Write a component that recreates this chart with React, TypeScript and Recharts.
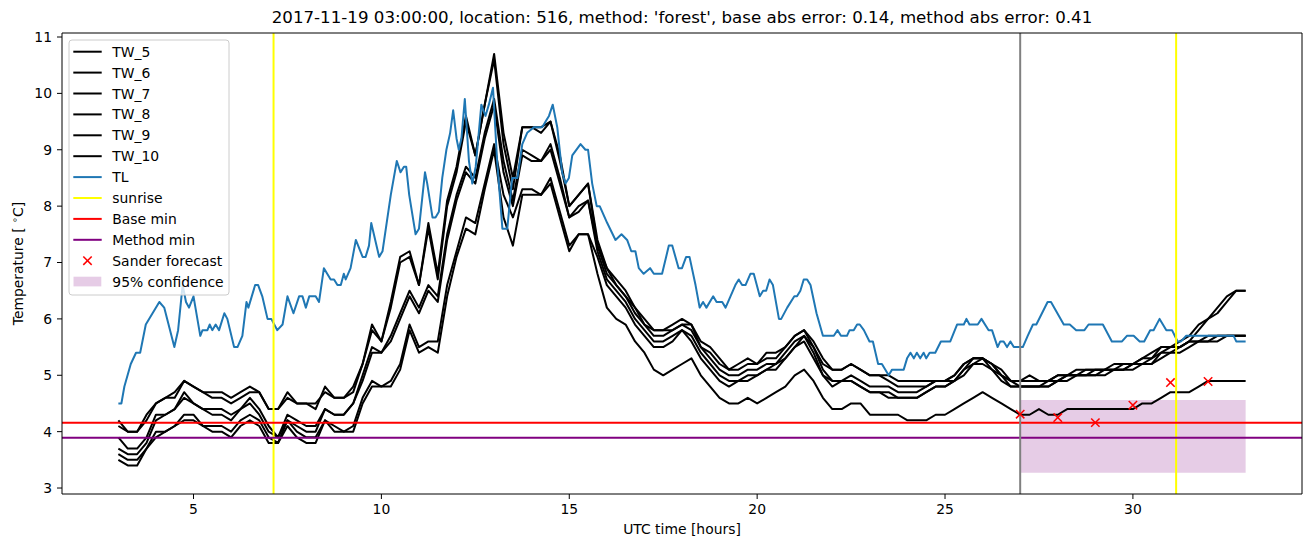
import React from 'react';
import { ComposedChart, Line, XAxis, YAxis, ReferenceLine, ReferenceArea, Scatter } from 'recharts';

const FONT = '"DejaVu Sans", sans-serif';

// sample times of the TW series (hours, every 15 minutes from 3 to 33)
const HOURS = Array.from({ length: 121 }, (_, i) => 3 + i * 0.25);

const TW_5 = [
  4.2, 4.0, 4.0, 4.3, 4.5, 4.6, 4.7, 4.9, 4.8, 4.7, 4.7, 4.7, 4.6, 4.7, 4.8, 4.7,
  4.4, 4.4, 4.7, 4.5, 4.5, 4.4, 4.8, 4.6, 4.6, 4.8, 5.2, 5.9, 5.6, 6.3, 7.1, 7.2,
  6.6, 7.7, 6.8, 8.1, 8.7, 9.6, 8.9, 9.8, 10.7, 9.3, 8.5, 9.4, 9.4, 9.4, 9.5, 8.9,
  8.0, 8.2, 8.4, 7.4, 6.9, 6.7, 6.5, 6.2, 6.0,
  5.8, 5.8, 5.9, 6.0, 5.9, 5.6, 5.5, 5.3, 5.1, 5.2, 5.3, 5.2, 5.4, 5.4, 5.5, 5.7,
  5.8, 5.6, 5.3, 5.1, 5.1, 5.2, 5.1, 5.0, 5.0, 5.0, 4.9, 4.9, 4.9, 4.9, 4.9, 4.9,
  5.0, 5.2, 5.3, 5.3, 5.2, 5.1, 4.9, 4.9, 4.9, 4.9, 4.9, 5.0, 5.0, 5.1, 5.1, 5.1,
  5.1, 5.2, 5.2, 5.2, 5.3, 5.4, 5.5, 5.5, 5.6, 5.7, 5.9, 6.0, 6.2, 6.4, 6.5, 6.5,
];
const TW_6 = [
  4.1, 4.0, 4.0, 4.2, 4.5, 4.6, 4.6, 4.9, 4.8, 4.7, 4.6, 4.6, 4.5, 4.6, 4.7, 4.7,
  4.4, 4.4, 4.6, 4.5, 4.5, 4.5, 4.7, 4.6, 4.6, 4.7, 5.2, 5.8, 5.6, 6.2, 7.0, 7.1,
  6.6, 7.6, 6.7, 8.0, 8.6, 9.5, 8.9, 9.8, 10.6, 9.1, 8.3, 9.4, 9.4, 9.3, 9.5, 8.8,
  8.0, 8.2, 8.4, 7.3, 6.9, 6.6, 6.4, 6.2, 5.9,
  5.8, 5.8, 5.8, 5.9, 5.9, 5.5, 5.4, 5.2, 5.1, 5.1, 5.2, 5.2, 5.3, 5.3, 5.5, 5.7,
  5.8, 5.5, 5.2, 5.1, 5.1, 5.2, 5.1, 5.0, 5.0, 4.9, 4.8, 4.8, 4.8, 4.8, 4.9, 4.9,
  5.0, 5.2, 5.3, 5.3, 5.2, 5.0, 4.9, 4.9, 5.0, 4.9, 4.9, 5.0, 5.0, 5.0, 5.1, 5.1,
  5.1, 5.1, 5.2, 5.2, 5.3, 5.3, 5.5, 5.5, 5.5, 5.6, 5.8, 6.0, 6.1, 6.3, 6.5, 6.5,
];
const TW_7 = [
  3.9, 3.7, 3.7, 3.9, 4.3, 4.3, 4.4, 4.7, 4.5, 4.4, 4.4, 4.4, 4.3, 4.4, 4.6, 4.4,
  4.1, 3.9, 4.3, 4.2, 4.1, 4.1, 4.4, 4.3, 4.3, 4.5, 5.0, 5.5, 5.4, 5.7, 6.1, 6.5,
  6.2, 6.6, 6.4, 7.5, 8.2, 8.7, 8.5, 9.3, 9.9, 8.8, 8.1, 9.0, 8.9, 8.8, 9.1, 8.5,
  7.8, 8.0, 8.1, 7.3, 6.8, 6.6, 6.4, 6.1, 5.9,
  5.7, 5.7, 5.8, 5.9, 5.8, 5.5, 5.3, 5.1, 5.0, 5.0, 5.1, 5.1, 5.2, 5.2, 5.4, 5.6,
  5.7, 5.5, 5.1, 4.9, 4.9, 5.0, 4.9, 4.8, 4.8, 4.8, 4.7, 4.7, 4.7, 4.8, 4.9, 4.9,
  4.9, 5.1, 5.3, 5.3, 5.2, 5.0, 4.9, 4.8, 4.8, 4.8, 4.9, 4.9, 5.0, 5.0, 5.0, 5.1,
  5.1, 5.1, 5.1, 5.2, 5.2, 5.3, 5.4, 5.5, 5.5, 5.6, 5.6, 5.7, 5.7, 5.7, 5.7, 5.7,
];
const TW_8 = [
  3.7, 3.6, 3.6, 3.8, 4.2, 4.3, 4.4, 4.6, 4.5, 4.4, 4.3, 4.3, 4.2, 4.4, 4.5, 4.3,
  4.0, 3.9, 4.2, 4.1, 4.0, 4.0, 4.4, 4.3, 4.3, 4.5, 4.9, 5.4, 5.4, 5.6, 6.0, 6.4,
  6.1, 6.5, 6.3, 7.4, 8.1, 8.6, 8.4, 9.2, 9.8, 8.6, 8.0, 8.9, 8.8, 8.8, 9.0, 8.4,
  7.8, 7.9, 8.1, 7.2, 6.7, 6.5, 6.3, 6.0, 5.8,
  5.6, 5.6, 5.7, 5.8, 5.7, 5.4, 5.2, 5.0, 4.9, 4.9, 5.0, 5.0, 5.1, 5.2, 5.3, 5.5,
  5.7, 5.4, 5.0, 4.9, 4.9, 4.9, 4.8, 4.7, 4.7, 4.7, 4.6, 4.6, 4.6, 4.7, 4.8, 4.8,
  4.9, 5.1, 5.2, 5.3, 5.1, 5.0, 4.8, 4.8, 4.8, 4.8, 4.8, 4.9, 5.0, 5.0, 5.0, 5.0,
  5.1, 5.1, 5.1, 5.2, 5.2, 5.2, 5.4, 5.4, 5.5, 5.6, 5.6, 5.6, 5.7, 5.7, 5.7, 5.7,
];
const TW_9 = [
  3.6, 3.5, 3.5, 3.7, 4.0, 4.0, 4.1, 4.3, 4.3, 4.1, 4.1, 4.1, 4.0, 4.2, 4.3, 4.2,
  3.9, 3.8, 4.2, 4.0, 3.9, 3.9, 4.2, 4.1, 4.0, 4.1, 4.6, 4.9, 4.8, 4.9, 5.2, 5.9,
  5.5, 5.6, 5.6, 6.6, 7.2, 7.8, 7.7, 8.4, 9.1, 8.2, 7.8, 8.3, 8.3, 8.2, 8.5, 7.9,
  7.3, 7.5, 7.5, 7.1, 6.6, 6.4, 6.2, 5.9, 5.7,
  5.5, 5.5, 5.6, 5.8, 5.6, 5.3, 5.1, 4.9, 4.8, 4.9, 4.9, 5.0, 5.1, 5.1, 5.3, 5.5,
  5.6, 5.3, 5.0, 4.8, 4.9, 4.9, 4.8, 4.7, 4.7, 4.6, 4.6, 4.6, 4.6, 4.7, 4.8, 4.8,
  4.9, 5.0, 5.2, 5.2, 5.1, 4.9, 4.8, 4.8, 4.8, 4.8, 4.8, 4.9, 4.9, 5.0, 5.0, 5.0,
  5.0, 5.1, 5.1, 5.1, 5.2, 5.2, 5.3, 5.4, 5.4, 5.5, 5.6, 5.6, 5.6, 5.7, 5.7, 5.7,
];
const TW_10 = [
  3.5, 3.4, 3.4, 3.7, 3.9, 4.0, 4.1, 4.2, 4.2, 4.1, 4.0, 4.0, 3.9, 4.1, 4.2, 4.1,
  3.8, 3.8, 4.1, 3.9, 3.8, 3.8, 4.2, 4.0, 4.0, 4.0, 4.5, 4.8, 4.8, 4.8, 5.1, 5.8,
  5.4, 5.5, 5.4, 6.4, 7.1, 7.6, 7.5, 8.3, 9.0, 7.8, 7.3, 8.2, 8.2, 8.2, 8.4, 7.8,
  7.2, 7.5, 7.5, 6.8, 6.2, 6.0, 5.9, 5.6, 5.4,
  5.1, 5.0, 5.1, 5.2, 5.3, 5.0, 4.8, 4.6, 4.5, 4.5, 4.6, 4.5, 4.6, 4.7, 4.8, 5.0,
  5.1, 4.9, 4.6, 4.4, 4.4, 4.5, 4.5, 4.3, 4.3, 4.3, 4.3, 4.2, 4.2, 4.2, 4.3, 4.3,
  4.4, 4.5, 4.6, 4.7, 4.6, 4.5, 4.4, 4.3, 4.3, 4.4, 4.3, 4.3, 4.4, 4.4, 4.4, 4.4,
  4.4, 4.4, 4.4, 4.4, 4.5, 4.5, 4.6, 4.7, 4.7, 4.7, 4.8, 4.9, 4.9, 4.9, 4.9, 4.9,
];

// TL: [hour, temperature]
const TL_POINTS: [number, number][] = [
  [3.0, 4.5], [3.08, 4.5], [3.16, 4.8], [3.33, 5.2], [3.47, 5.4], [3.58, 5.4], [3.73, 5.9], [4.09, 6.3],
  [4.22, 6.2], [4.49, 5.5], [4.59, 5.8], [4.71, 6.6], [4.8, 6.3], [4.88, 6.2], [5.0, 6.4], [5.18, 5.7],
  [5.24, 5.8], [5.37, 5.8], [5.43, 5.9], [5.5, 5.8], [5.59, 5.9], [5.68, 5.8], [5.82, 6.1], [5.9, 6.0],
  [6.08, 5.5], [6.17, 5.5], [6.3, 5.7], [6.41, 6.3], [6.46, 6.2], [6.64, 6.6], [6.72, 6.6], [6.83, 6.4],
  [6.97, 6.0], [7.07, 6.0], [7.23, 5.8], [7.37, 5.9], [7.5, 6.4], [7.66, 6.1], [7.81, 6.4], [7.9, 6.4],
  [7.99, 6.2], [8.08, 6.4], [8.25, 6.4], [8.34, 6.3], [8.47, 6.9], [8.65, 6.7], [8.74, 6.7], [8.83, 6.6],
  [8.92, 6.6], [9.0, 6.8], [9.05, 6.7], [9.18, 6.9], [9.32, 7.4], [9.5, 7.1], [9.58, 7.1], [9.67, 7.3],
  [9.73, 7.7], [9.94, 7.1], [10.03, 7.2], [10.25, 8.2], [10.41, 8.8], [10.51, 8.6], [10.6, 8.7], [10.66, 8.7],
  [10.74, 8.2], [10.91, 7.5], [11.0, 7.6], [11.16, 8.6], [11.22, 8.4], [11.36, 7.8], [11.44, 7.8], [11.53, 7.9],
  [11.62, 8.5], [11.73, 9.0], [11.83, 9.3], [11.91, 9.7], [12.0, 9.2], [12.06, 9.0], [12.13, 9.2], [12.22, 9.9],
  [12.33, 8.8], [12.42, 8.4], [12.51, 8.7], [12.66, 9.8], [12.77, 9.6], [12.86, 9.8], [12.97, 10.1], [13.08, 8.8],
  [13.22, 7.6], [13.35, 7.6], [13.48, 8.5], [13.62, 8.5], [13.75, 9.1], [13.88, 9.3], [14.06, 9.4], [14.28, 9.4],
  [14.37, 9.5], [14.46, 9.6], [14.56, 9.8], [14.68, 9.4], [14.81, 8.6], [14.9, 8.4], [14.99, 8.5], [15.08, 8.9],
  [15.3, 9.1], [15.43, 9.0], [15.5, 9.0], [15.61, 8.4], [15.73, 8.0], [15.81, 8.0], [16.01, 7.7], [16.23, 7.4],
  [16.39, 7.5], [16.54, 7.4], [16.65, 7.2], [16.76, 7.2], [16.85, 6.9], [16.98, 6.8], [17.15, 6.9], [17.25, 6.8],
  [17.47, 6.8], [17.65, 7.3], [17.74, 7.3], [17.91, 6.9], [18.0, 6.9], [18.11, 7.1], [18.2, 7.1], [18.36, 6.6],
  [18.47, 6.2], [18.56, 6.3], [18.65, 6.2], [18.83, 6.4], [18.92, 6.3], [19.07, 6.3], [19.16, 6.2], [19.29, 6.4],
  [19.42, 6.6], [19.51, 6.7], [19.6, 6.6], [19.69, 6.6], [19.82, 6.8], [19.91, 6.8], [20.07, 6.4], [20.16, 6.5],
  [20.24, 6.5], [20.33, 6.7], [20.42, 6.6], [20.58, 6.0], [20.64, 6.0], [20.8, 6.2], [20.99, 6.4], [21.06, 6.4],
  [21.15, 6.5], [21.24, 6.7], [21.33, 6.7], [21.42, 6.6], [21.58, 6.1], [21.75, 5.7], [22.04, 5.7], [22.14, 5.8],
  [22.23, 5.7], [22.39, 5.7], [22.46, 5.8], [22.57, 5.8], [22.66, 5.9], [22.73, 5.9], [22.84, 5.8], [22.99, 5.6],
  [23.08, 5.6], [23.22, 5.2], [23.32, 5.2], [23.5, 5.0], [23.59, 5.1], [23.9, 5.1], [23.99, 5.3], [24.08, 5.4],
  [24.17, 5.3], [24.25, 5.4], [24.34, 5.3], [24.43, 5.4], [24.5, 5.3], [24.59, 5.4], [24.74, 5.4], [24.89, 5.6],
  [25.14, 5.6], [25.32, 5.9], [25.5, 5.9], [25.57, 6.0], [25.65, 5.9], [25.87, 5.9], [25.97, 6.0], [26.16, 5.8],
  [26.25, 5.8], [26.4, 5.5], [26.47, 5.6], [26.56, 5.6], [26.65, 5.5], [26.74, 5.6], [26.83, 5.5], [27.07, 5.5],
  [27.2, 5.7], [27.34, 5.9], [27.43, 5.9], [27.73, 6.3], [27.82, 6.3], [28.16, 5.9], [28.32, 5.9], [28.49, 5.8],
  [28.71, 5.8], [28.82, 5.9], [29.2, 5.9], [29.44, 5.6], [29.71, 5.6], [29.84, 5.7], [30.02, 5.7], [30.18, 5.6],
  [30.3, 5.6], [30.46, 5.8], [30.55, 5.8], [30.71, 6.0], [30.89, 5.8], [31.04, 5.8], [31.19, 5.6], [31.28, 5.6],
  [31.42, 5.7], [32.68, 5.7], [32.75, 5.6], [33.0, 5.6],
];

const SANDER_HOURS = [27, 28, 29, 30, 31, 32];
const SANDER_VALUES = [4.31, 4.25, 4.16, 4.47, 4.87, 4.89];

const SUNRISE_HOURS = [7.13, 31.15];
const FORECAST_START = 27;
const BASE_MIN = 4.16;
const METHOD_MIN = 3.89;
const CONF_HOURS = [27, 33];
const CONF_RANGE = [3.27, 4.56];

const X_TICKS = [5, 10, 15, 20, 25, 30];
const Y_TICKS = [3, 4, 5, 6, 7, 8, 9, 10, 11];
const X_DOMAIN: [number, number] = [1.5, 34.5];
const Y_DOMAIN: [number, number] = [2.894, 11.071];

const TITLE = "2017-11-19 03:00:00, location: 516, method: 'forest', base abs error: 0.14, method abs error: 0.41";
const X_LABEL = 'UTC time [hours]';

const TW_KEYS = ['TW_5', 'TW_6', 'TW_7', 'TW_8', 'TW_9', 'TW_10'];
const TW_SERIES = [TW_5, TW_6, TW_7, TW_8, TW_9, TW_10];

const LEGEND = [
  { label: 'TW_5', kind: 'line', color: '#000000' },
  { label: 'TW_6', kind: 'line', color: '#000000' },
  { label: 'TW_7', kind: 'line', color: '#000000' },
  { label: 'TW_8', kind: 'line', color: '#000000' },
  { label: 'TW_9', kind: 'line', color: '#000000' },
  { label: 'TW_10', kind: 'line', color: '#000000' },
  { label: 'TL', kind: 'line', color: '#1f77b4' },
  { label: 'sunrise', kind: 'line', color: '#ffff00' },
  { label: 'Base min', kind: 'line', color: '#ff0000' },
  { label: 'Method min', kind: 'line', color: '#800080' },
  { label: 'Sander forecast', kind: 'marker', color: '#ff0000' },
  { label: '95% confidence', kind: 'patch', color: '#800080' },
];

const twData = HOURS.map((h, i) => {
  const row: Record<string, number> = { h };
  TW_KEYS.forEach((k, j) => { row[k] = TW_SERIES[j][i]; });
  return row;
});
const tlData = TL_POINTS.map(([h, v]) => ({ h, v }));
const sanderData = SANDER_HOURS.map((h, i) => ({ h, v: SANDER_VALUES[i] }));

const XMark = (props: any) => {
  const { cx, cy } = props;
  if (cx == null || cy == null) return null;
  const s = 4.2;
  return (
    <g>
      <line x1={cx - s} y1={cy - s} x2={cx + s} y2={cy + s} stroke="#ff0000" strokeWidth={1.5} />
      <line x1={cx - s} y1={cy + s} x2={cx + s} y2={cy - s} stroke="#ff0000" strokeWidth={1.5} />
    </g>
  );
};

const tickStyle = { fill: '#000000', fontSize: 13.9, fontFamily: FONT };

const LegendBox = () => {
  const rowY = (i: number) => 11.7 + 20.9 * i;
  return (
    <svg width={162} height={257} style={{ position: 'absolute', left: 68, top: 39, overflow: 'visible' }}>
      <rect x={1} y={1} width={160} height={255} rx={3} ry={3} fill="#ffffff" fillOpacity={0.8} stroke="#cccccc" strokeWidth={1} />
      {LEGEND.map((e, i) => {
        const y = rowY(i) + 1;
        let handle;
        if (e.kind === 'line') {
          handle = <line x1={5.3} x2={33.7} y1={y} y2={y} stroke={e.color} strokeWidth={2} />;
        } else if (e.kind === 'marker') {
          handle = <XMark cx={19.5} cy={y} />;
        } else {
          handle = <rect x={5.5} y={y - 4.9} width={27.8} height={9.7} fill={e.color} fillOpacity={0.2} />;
        }
        return (
          <g key={e.label}>
            {handle}
            <text x={44.3} y={y} dominantBaseline="central" fontFamily={FONT} fontSize={13.9} fill="#000000">{e.label}</text>
          </g>
        );
      })}
    </svg>
  );
};

export default function App() {
  return (
    <div style={{ position: 'absolute', left: 0, top: 0, width: 1311, height: 547, background: '#ffffff', fontFamily: FONT }}>
      <ComposedChart width={1311} height={547} data={twData} margin={{ top: 33, right: 9, bottom: 0, left: 0 }}>
        <XAxis
          type="number"
          dataKey="h"
          domain={X_DOMAIN}
          ticks={X_TICKS}
          allowDataOverflow
          height={53}
          tickSize={5}
          tickMargin={5}
          tick={tickStyle}
          axisLine={{ stroke: '#000000', strokeWidth: 1 }}
          tickLine={{ stroke: '#000000', strokeWidth: 1 }}
        />
        <YAxis
          type="number"
          domain={Y_DOMAIN}
          ticks={Y_TICKS}
          allowDataOverflow
          width={62}
          tickSize={5}
          tickMargin={5}
          tick={tickStyle}
          axisLine={{ stroke: '#000000', strokeWidth: 1 }}
          tickLine={{ stroke: '#000000', strokeWidth: 1 }}
        />
        <ReferenceArea
          x1={CONF_HOURS[0]}
          x2={CONF_HOURS[1]}
          y1={CONF_RANGE[0]}
          y2={CONF_RANGE[1]}
          fill="#800080"
          fillOpacity={0.2}
          stroke="none"
        />
        {TW_KEYS.map((k) => (
          <Line
            key={k}
            type="linear"
            dataKey={k}
            stroke="#000000"
            strokeWidth={2}
            strokeLinejoin="round"
            dot={false}
            activeDot={false}
            isAnimationActive={false}
          />
        ))}
        <Line
          data={tlData}
          type="linear"
          dataKey="v"
          stroke="#1f77b4"
          strokeWidth={2}
          strokeLinejoin="round"
          dot={false}
          activeDot={false}
          isAnimationActive={false}
        />
        {SUNRISE_HOURS.map((h) => (
          <ReferenceLine key={h} x={h} stroke="#ffff00" strokeWidth={2} />
        ))}
        <ReferenceLine y={BASE_MIN} stroke="#ff0000" strokeWidth={2} />
        <ReferenceLine y={METHOD_MIN} stroke="#800080" strokeWidth={2} />
        <ReferenceLine x={FORECAST_START} stroke="#808080" strokeWidth={2} />
        <Scatter data={sanderData} dataKey="v" shape={<XMark />} isAnimationActive={false} />
        <ReferenceLine y={Y_DOMAIN[1]} stroke="#000000" strokeWidth={1} />
        <ReferenceLine x={X_DOMAIN[1]} stroke="#000000" strokeWidth={1} />
      </ComposedChart>
      <svg width={1311} height={547} style={{ position: 'absolute', left: 0, top: 0, pointerEvents: 'none' }}>
        <text x={682} y={23} textAnchor="middle" fontFamily={FONT} fontSize={16.67} fill="#000000">{TITLE}</text>
        <text x={682} y={534} textAnchor="middle" fontFamily={FONT} fontSize={13.9} fill="#000000">{X_LABEL}</text>
        <text transform="translate(23,263.5) rotate(-90)" textAnchor="middle" fontFamily={FONT} fontSize={13.9} fill="#000000">
          <tspan>Temperature [ </tspan>
          <tspan dy={-5} fontSize={9.7}>∘</tspan>
          <tspan dy={5}>C]</tspan>
        </text>
      </svg>
      <LegendBox />
    </div>
  );
}
